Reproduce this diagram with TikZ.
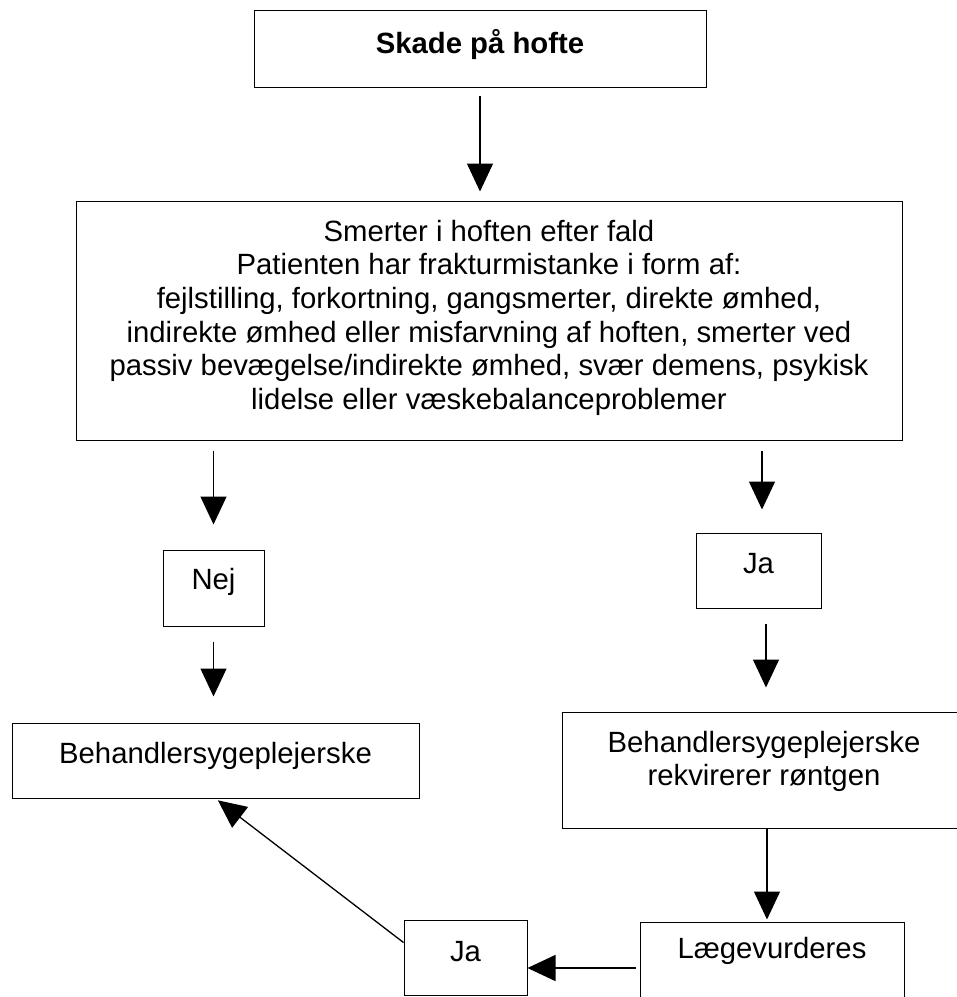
\documentclass[tikz,border=0pt]{standalone}
\usepackage{fontspec}
\setmainfont{Liberation Sans}
\usetikzlibrary{arrows.meta}

% Top-aligned, centred box text: width, height, first baseline, text
\newcommand{\boxtxt}[4]{\parbox[c][#2][t]{#1}{\centering\rule{0pt}{#3}#4\par}}

\tikzset{
  flowbox/.style={draw=black, line width=1pt, inner sep=0pt, fill=white,
    font=\fontsize{29.3pt}{33.7pt}\selectfont},
  arr/.style={line width=1.3pt, -{Triangle[width=26pt,length=28pt]}}
}

\begin{document}
\begin{tikzpicture}[x=1pt, y=-1pt]
\useasboundingbox[fill=white] (0,0) rectangle (957,997);

\node[flowbox] (top) at (480,48.5)
  {\boxtxt{452pt}{77pt}{43pt}{\bfseries Skade på hofte}};
\node[flowbox] (big) at (489,320.5)
  {\boxtxt{826pt}{239pt}{40pt}{Smerter i hoften efter fald\\
   Patienten har frakturmistanke i form af:\\
   fejlstilling, forkortning, gangsmerter, direkte ømhed,\\
   indirekte ømhed eller misfarvning af hoften, smerter ved\\
   passiv bevægelse/indirekte ømhed, svær demens, psykisk\\
   lidelse eller væskebalanceproblemer}};
\node[flowbox] (nej) at (213.5,588) {\boxtxt{101pt}{76pt}{39pt}{Nej}};
\node[flowbox] (jaR) at (758.5,570.5) {\boxtxt{125pt}{75pt}{40pt}{Ja}};
\node[flowbox] (behL) at (215.5,760.5)
  {\boxtxt{407pt}{75pt}{40pt}{Behandlersygeplejerske}};
\node[flowbox] (behR) at (764,770)
  {\boxtxt{404pt}{116pt}{40pt}{Behandlersygeplejerske\\rekvirerer røntgen}};
\node[flowbox] (laege) at (772,972) {\boxtxt{264pt}{100pt}{36pt}{Lægevurderes}};
\node[flowbox] (jaB) at (465.5,957.5) {\boxtxt{123pt}{75pt}{41pt}{Ja}};

% connectors
\draw[arr, shorten <=8pt, shorten >=9pt] (top.south) -- (top.south |- big.north);
\draw[arr, shorten <=10pt, shorten >=25pt] (nej.north |- big.south) -- (nej.north);
\draw[arr, shorten <=10pt, shorten >=23pt] ([xshift=3.5pt]jaR.north |- big.south) -- ([xshift=3.5pt]jaR.north);
\draw[arr, shorten <=15pt, shorten >=26pt] (nej.south) -- (nej.south |- behL.north);
\draw[arr, shorten <=15pt, shorten >=24pt] ([xshift=7.5pt]jaR.south) -- ([xshift=7.5pt]jaR.south |- behR.north);
\draw[arr, shorten >=2pt] ([xshift=3pt]behR.south) -- ([xshift=3pt]behR.south |- laege.north);
\draw[arr, shorten <=4pt] ([yshift=4pt]laege.west) -- ([yshift=4pt]laege.west -| jaB.east);
\draw[arr, shorten >=3pt] ([yshift=15pt]jaB.west) -- (behL.south);
\end{tikzpicture}
\end{document}
